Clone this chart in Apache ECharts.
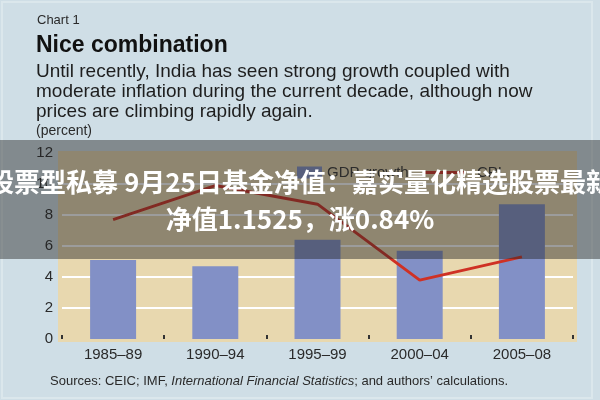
<!DOCTYPE html>
<html>
<head>
<meta charset="utf-8">
<script src="https://cdn.jsdelivr.net/npm/echarts@6/dist/echarts.min.js"></script>
<style>
html,body{margin:0;padding:0;background:#cfdee6;}
#c{width:600px;height:400px;}
</style>
</head>
<body>
<div id="c"></div>
<script>
const categories = ['1985–89', '1990–94', '1995–99', '2000–04', '2005–08'];
const gdpGrowth = [5.1, 4.7, 6.4, 5.7, 8.7];
const cpi = [7.7, 9.9, 8.7, 3.8, 5.3];
const yTicks = [0, 2, 4, 6, 8, 10, 12];

const FONT = '"Liberation Sans", Arial, sans-serif';
const chart = echarts.init(document.getElementById('c'), null, {renderer: 'canvas'});

chart.setOption({
  backgroundColor: '#cfdee6',
  animation: false,
  textStyle: {fontFamily: FONT},
  grid: {left: 62, right: 27, top: 153, bottom: 61, containLabel: false},
  legend: [
    {
      data: [{name: 'GDP growth', icon: 'rect'}],
      left: 292, top: 160, itemWidth: 25, itemHeight: 12,
      textStyle: {fontSize: 15, color: '#333', fontFamily: FONT, padding: [0, 0, 0, 0]}
    },
    {
      data: [{name: 'CPI', icon: 'rect'}],
      left: 420, top: 160, itemWidth: 40, itemHeight: 3,
      textStyle: {fontSize: 15, color: '#333', fontFamily: FONT, padding: [0, 0, 0, 7]}
    }
  ],
  xAxis: {
    type: 'category',
    data: categories,
    boundaryGap: true,
    axisLine: {show: false},
    axisTick: {show: true, inside: true, length: 4, lineStyle: {color: '#333', width: 2}},
    axisLabel: {fontSize: 15, color: '#2a2a2a', margin: 8, fontFamily: FONT},
    splitLine: {show: false}
  },
  yAxis: {
    type: 'value',
    min: 0, max: 12, interval: 2,
    axisLine: {show: false},
    axisTick: {show: false},
    axisLabel: {
      fontSize: 15, color: '#2a2a2a', margin: 9, fontFamily: FONT,
      formatter: v => yTicks.includes(v) ? String(v) : ''
    },
    splitLine: {show: true, showMinLine: false, showMaxLine: false, lineStyle: {color: '#ffffff', width: 2}}
  },
  series: [
    {
      name: 'GDP growth',
      type: 'bar',
      data: gdpGrowth,
      barWidth: '45%',
      itemStyle: {color: '#8290c6'},
      z: 3
    },
    {
      name: 'CPI',
      type: 'line',
      data: cpi,
      symbol: 'none',
      lineStyle: {color: '#cf3124', width: 3},
      itemStyle: {color: '#cf3124'},
      z: 4
    }
  ],
  graphic: [
    {type: 'rect', z: -1, silent: true, shape: {x: 58, y: 151, width: 519, height: 191}, style: {fill: '#e8d8af'}},
    {type: 'rect', z: -2, silent: true, shape: {x: 2, y: 2, width: 590, height: 396}, style: {fill: 'none', stroke: '#dbe7ec', lineWidth: 2}},
    {type: 'text', x: 37, y: 20, style: {text: 'Chart 1', font: '13px ' + FONT, fill: '#2a2a2a', align: 'left', verticalAlign: 'middle', textAlign: 'left', textVerticalAlign: 'middle'}},
    {type: 'text', x: 36, y: 46, style: {text: 'Nice combination', font: 'bold 23px ' + FONT, fill: '#111', align: 'left', verticalAlign: 'middle', textAlign: 'left', textVerticalAlign: 'middle'}},
    {type: 'text', x: 36, y: 72, style: {text: 'Until recently, India has seen strong growth coupled with', font: '19px ' + FONT, fill: '#1e1e1e', align: 'left', verticalAlign: 'middle', textAlign: 'left', textVerticalAlign: 'middle'}},
    {type: 'text', x: 36, y: 92, style: {text: 'moderate inflation during the current decade, although now', font: '19px ' + FONT, fill: '#1e1e1e', align: 'left', verticalAlign: 'middle', textAlign: 'left', textVerticalAlign: 'middle'}},
    {type: 'text', x: 36, y: 112, style: {text: 'prices are climbing rapidly again.', font: '19px ' + FONT, fill: '#1e1e1e', align: 'left', verticalAlign: 'middle', textAlign: 'left', textVerticalAlign: 'middle'}},
    {type: 'text', x: 36, y: 131, style: {text: '(percent)', font: '14px ' + FONT, fill: '#2a2a2a', align: 'left', verticalAlign: 'middle', textAlign: 'left', textVerticalAlign: 'middle'}},
    {type: 'text', x: 50, y: 381, style: {
      text: '{n|Sources: CEIC; IMF, }{i|International Financial Statistics}{n|; and authors\u2019 calculations.}',
      rich: {
        n: {font: '13px ' + FONT, fill: '#2a2a2a', fontSize: 13, fontFamily: FONT, color: '#2a2a2a'},
        i: {font: 'italic 13px ' + FONT, fill: '#2a2a2a', fontSize: 13, fontStyle: 'italic', fontFamily: FONT, color: '#2a2a2a'}
      },
      align: 'left', verticalAlign: 'middle', textAlign: 'left', textVerticalAlign: 'middle'
    }},
    {type: 'rect', z: 100, silent: true, shape: {x: 0, y: 140, width: 600, height: 119}, style: {fill: 'rgba(35,35,35,0.45)'}},
    {type: 'text', z: 101, x: 300, y: 182, style: {text: '股票型私募 9月25日基金净值：嘉实量化精选股票最新', font: 'bold 26px "Noto Sans CJK SC", sans-serif', fill: '#ffffff', align: 'center', verticalAlign: 'middle', textAlign: 'center', textVerticalAlign: 'middle'}},
    {type: 'text', z: 101, x: 300, y: 219, style: {text: '净值1.1525，涨0.84%', font: 'bold 26px "Noto Sans CJK SC", sans-serif', fill: '#ffffff', align: 'center', verticalAlign: 'middle', textAlign: 'center', textVerticalAlign: 'middle'}}
  ]
});
</script>
</body>
</html>
